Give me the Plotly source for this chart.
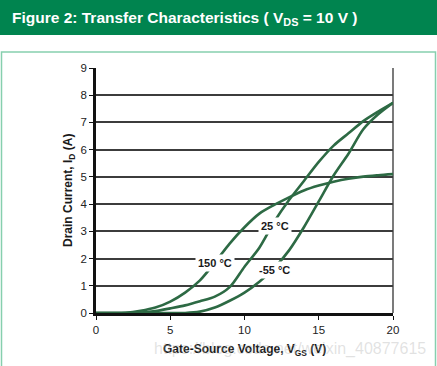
import plotly.graph_objects as go

# ---- data ----
vgs = [0, 1, 2, 3, 4, 5, 6, 7, 8, 9, 10, 11, 12, 13, 14, 15, 16, 17, 18, 19, 20]
id_150 = [0, 0, 0.01, 0.08, 0.2, 0.42, 0.75, 1.2, 1.85, 2.55, 3.15, 3.65, 3.97, 4.25, 4.5, 4.68, 4.82, 4.93, 5.01, 5.06, 5.1]
id_25 = [0, 0, 0, 0.02, 0.07, 0.17, 0.28, 0.43, 0.6, 0.95, 1.7, 2.4, 3.35, 4.15, 4.85, 5.55, 6.15, 6.6, 7.05, 7.4, 7.72]
id_m55 = [0, 0, 0, 0, 0, 0, 0, 0.05, 0.2, 0.45, 0.75, 1.15, 1.65, 2.3, 3.15, 4.1, 5.05, 5.85, 6.75, 7.3, 7.72]
series_labels = ["150 °C", "25 °C", "-55 °C"]
label_pos = [(8.0, 1.84), (12.05, 3.21), (12.02, 1.58)]
x_ticks = [0, 5, 10, 15, 20]
y_ticks = [0, 1, 2, 3, 4, 5, 6, 7, 8, 9]

W, H = 437, 366
L, R, T, B = 96, 44, 68, 53
PW, PH = W - L - R, H - T - B

def px(x):
    return (x - L) / PW

def py(y):
    return (H - B - y) / PH

CURVE = "#2d6a44"
FONT = "Liberation Sans, Arial"
fig = go.Figure()
for ys, name in zip([id_150, id_25, id_m55], series_labels):
    fig.add_trace(go.Scatter(x=vgs, y=ys, mode="lines", name=name,
                             line=dict(color=CURVE, width=2.6, shape="spline", smoothing=0.8),
                             showlegend=False, hoverinfo="skip"))

annotations = []
for (lx, ly), txt in zip(label_pos, series_labels):
    annotations.append(dict(x=lx, y=ly, xref="x", yref="y", text="<b>" + txt + "</b>", showarrow=False,
                            font=dict(family=FONT, size=11, color="#1a1a1a"),
                            bgcolor="white", borderpad=2))

# header title
annotations.append(dict(x=px(10), y=py(18), xref="paper", yref="paper", xanchor="left", yanchor="middle",
                        text="<b>Figure 2: Transfer Characteristics ( V<sub>DS</sub> = 10 V )</b>", showarrow=False,
                        font=dict(family=FONT, size=15.5, color="white")))
# axis titles
annotations.append(dict(x=px(68.5), y=0.5, xref="paper", yref="paper", xanchor="center", yanchor="middle",
                        textangle=-90, text="<b>Drain Current, I<sub>D</sub> (A)</b>", showarrow=False,
                        font=dict(family=FONT, size=12, color="#1a1a1a")))
annotations.append(dict(x=0.5, y=py(350), xref="paper", yref="paper", xanchor="center", yanchor="middle",
                        text="<b>Gate-Source Voltage, V<sub>GS</sub> (V)</b>", showarrow=False,
                        font=dict(family=FONT, size=12, color="#1a1a1a")))
# faint watermark
annotations.append(dict(x=px(152), y=py(349), xref="paper", yref="paper", xanchor="left", yanchor="middle",
                        text="https://blog.csdn.net/weixin_40877615", showarrow=False,
                        font=dict(family=FONT, size=16, color="rgba(170,170,170,0.35)")))

shapes = [
    dict(type="rect", xref="paper", yref="paper", x0=px(0), x1=px(W), y0=py(0), y1=py(35),
         fillcolor="#00844f", line=dict(width=0), layer="below"),
    dict(type="rect", xref="paper", yref="paper", x0=px(1.5), x1=px(435.5), y0=py(52), y1=py(380),
         fillcolor="rgba(0,0,0,0)", line=dict(color="#86cfae", width=1.5), layer="above"),
    dict(type="line", xref="paper", yref="paper", x0=1, x1=1, y0=0, y1=1,
         line=dict(color="#333333", width=1.3), layer="below"),
]

fig.update_layout(
    width=W, height=H,
    margin=dict(l=L, r=R, t=T, b=B, pad=0),
    paper_bgcolor="white", plot_bgcolor="rgba(0,0,0,0)",
    annotations=annotations, shapes=shapes,
    xaxis=dict(range=[0, 20], tickvals=x_ticks, ticktext=[str(v) for v in x_ticks],
               showgrid=False, zeroline=False, showline=True, linecolor="#111111", linewidth=2.5,
               ticks="outside", ticklen=4, tickwidth=1.2, tickcolor="#111111",
               tickfont=dict(family=FONT, size=11.5, color="#222222"),
               layer="below traces", fixedrange=True),
    yaxis=dict(range=[0, 9], tickvals=y_ticks, ticktext=[str(v) for v in y_ticks],
               showgrid=True, gridcolor="#3c3c3c", gridwidth=1.5, zeroline=False,
               showline=True, linecolor="#111111", linewidth=2.5,
               ticks="outside", ticklen=4, tickwidth=1.2, tickcolor="#111111",
               tickfont=dict(family=FONT, size=11.5, color="#222222"),
               layer="below traces", fixedrange=True),
)

fig.write_html("out.html", config={"displayModeBar": False},
               post_script="document.body.style.margin='0px';document.body.style.overflow='hidden';")
